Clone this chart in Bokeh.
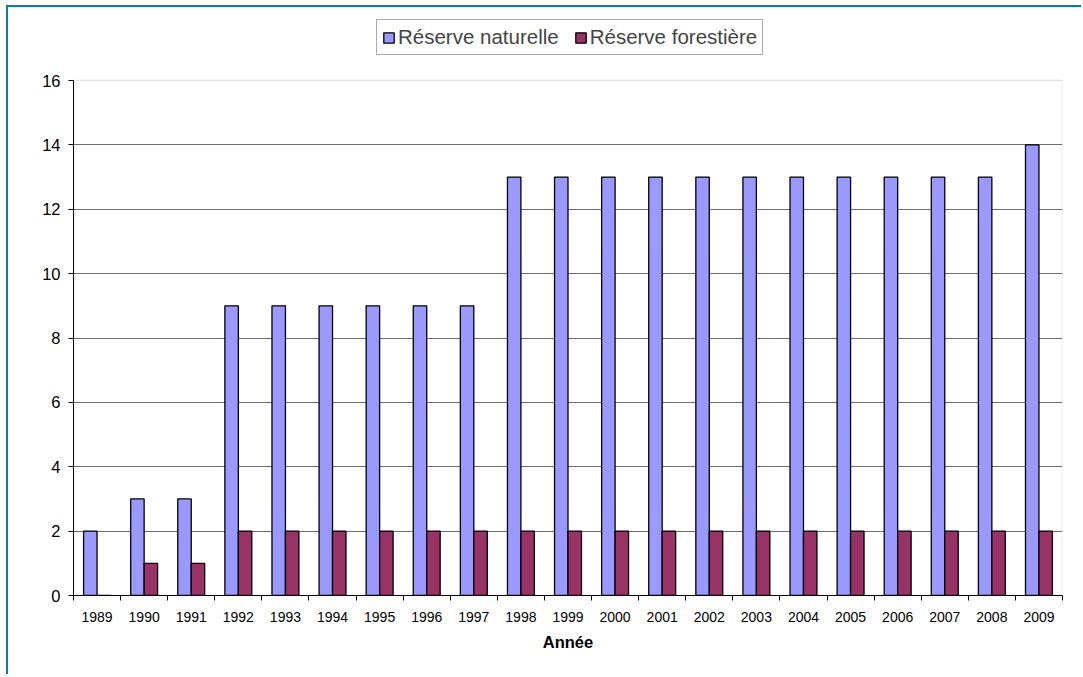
from bokeh.plotting import figure
from bokeh.models import Range1d, FixedTicker, Legend, LegendItem, ColumnDataSource, BoxAnnotation
from bokeh.transform import dodge
from bokeh.embed import file_html
from bokeh.resources import INLINE

years = list(range(1989, 2010))
naturelle = [2, 3, 3, 9, 9, 9, 9, 9, 9, 13, 13, 13, 13, 13, 13, 13, 13, 13, 13, 13, 14]
forestiere = [0, 1, 1, 2, 2, 2, 2, 2, 2, 2, 2, 2, 2, 2, 2, 2, 2, 2, 2, 2, 2]
series_names = ["Réserve naturelle", "Réserve forestière"]
series_colors = ["#9999FF", "#993366"]
y_ticks = [0, 2, 4, 6, 8, 10, 12, 14, 16]

src = ColumnDataSource(dict(year=years, nat=naturelle, forr=forestiere))

FONT = "Liberation Sans"
# frame extends above the value axis top so the legend can sit inside it
FRAME_H = 578
AXIS_H = 515
y_top = y_ticks[-1] * FRAME_H / AXIS_H
x_lo, x_hi = years[0] - 0.5, years[-1] + 0.5

p = figure(width=1075, height=669, output_backend="svg", toolbar_location=None,
           x_range=Range1d(x_lo, x_hi), y_range=Range1d(0, y_top),
           min_border_left=65, min_border_top=10, min_border_right=21, min_border_bottom=81)
p.styles = {"border-top": "2px solid #137B9A", "border-left": "2px solid #137B9A",
            "margin-left": "6px", "margin-top": "5px"}

bw = 1 / 3.5
r1 = p.vbar(x=dodge("year", -bw / 2, range=p.x_range), top="nat", width=bw, source=src,
            fill_color=series_colors[0], line_color="black", line_width=1.3)
r2 = p.vbar(x=dodge("year", bw / 2, range=p.x_range), top="forr", width=bw, source=src,
            fill_color=series_colors[1], line_color="black", line_width=1.3)

p.background_fill_color = "white"
p.border_fill_color = "white"
p.outline_line_color = None

# plot-area border (top / right in grey)
p.add_layout(BoxAnnotation(left=x_lo, right=x_hi, bottom=0, top=y_ticks[-1],
                           fill_alpha=0, line_color="#A6A6A6", line_width=1.5, level="underlay"))

p.xgrid.visible = False
p.ygrid.grid_line_color = "#6E6E6E"
p.ygrid.grid_line_width = 1
p.ygrid.ticker = FixedTicker(ticks=y_ticks[:-1])

xa = p.xaxis[0]
xa.ticker = FixedTicker(ticks=years, minor_ticks=[y - 0.5 for y in years] + [x_hi])
xa.major_tick_out = 0
xa.major_tick_in = 0
xa.minor_tick_out = 5
xa.minor_tick_in = 0
xa.minor_tick_line_color = "black"
xa.axis_line_color = "black"
xa.major_label_text_font = FONT
xa.major_label_text_font_size = "14px"
xa.major_label_text_color = "black"
xa.major_label_standoff = 11
xa.axis_label = "Année"
xa.axis_label_text_font = FONT
xa.axis_label_text_font_size = "16.5px"
xa.axis_label_text_font_style = "bold"
xa.axis_label_text_color = "black"
xa.axis_label_standoff = 8

ya = p.yaxis[0]
ya.ticker = FixedTicker(ticks=y_ticks, minor_ticks=[])
ya.bounds = (0, y_ticks[-1])
ya.major_tick_out = 5
ya.major_tick_in = 0
ya.minor_tick_out = 0
ya.minor_tick_in = 0
ya.axis_line_color = "black"
ya.major_tick_line_color = "black"
ya.major_label_text_font = FONT
ya.major_label_text_font_size = "16.5px"
ya.major_label_text_color = "black"
ya.major_label_standoff = 8

legend = Legend(items=[LegendItem(label=series_names[0], renderers=[r1]),
                       LegendItem(label=series_names[1], renderers=[r2])],
                orientation="horizontal", location=(303, 540),
                label_text_font=FONT, label_text_font_size="20.5px",
                glyph_width=13, glyph_height=13, label_standoff=3, spacing=15,
                padding=5, margin=0, border_line_color="#555555", border_line_width=1,
                background_fill_color="white", background_fill_alpha=1)
p.add_layout(legend, "center")

open("out.html", "w").write(file_html(p, INLINE))
